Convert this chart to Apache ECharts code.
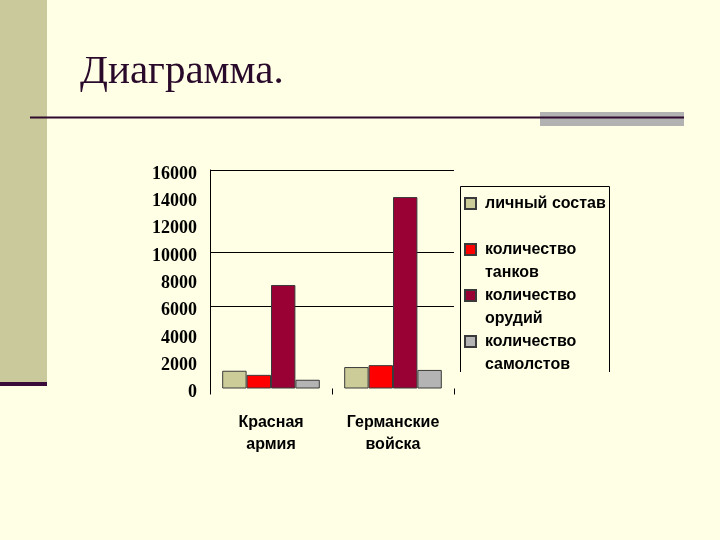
<!DOCTYPE html>
<html>
<head>
<meta charset="utf-8">
<style>
html,body{margin:0;padding:0;background:#ffffe6;}
#chart{width:720px;height:540px;}
</style>
<script src="https://cdn.jsdelivr.net/npm/echarts@6/dist/echarts.min.js"></script>
</head>
<body>
<div id="chart"></div>
<script>
const categories = ['Красная\nармия', 'Германские\nвойска'];
const seriesNames = ['личный состав', 'количество\nтанков', 'количество\nорудий', 'количество\nсамолстов'];
const personnel = [1300, 1570];
const tanks = [1000, 1710];
const guns = [7580, 14020];
const planes = [640, 1360];
const yTicks = [0, 2000, 4000, 6000, 8000, 10000, 12000, 14000, 16000];
const colors = ['#cccc99', '#ff0000', '#990033', '#b4b4b4'];
const values = [personnel, tanks, guns, planes];

const chart = echarts.init(document.getElementById('chart'), null, {renderer: 'canvas'});

const gridColors = yTicks.map(v => (v === 6000 || v === 10000 || v === 16000) ? '#000000' : 'rgba(0,0,0,0)');

const legendLabel = {};
seriesNames.forEach(n => {
  const parts = n.split('\n');
  legendLabel[n] = ' \n' + parts[0] + '\n' + (parts[1] || ' ');
});

const option = {
  backgroundColor: '#ffffe6',
  animation: false,
  title: {
    text: 'Диаграмма.',
    left: 75,
    top: 47,
    textStyle: {fontFamily: 'Liberation Serif', fontSize: 41, fontWeight: 'normal', color: '#2a0a2a'}
  },
  grid: {left: 210, right: 266, top: 170, bottom: 151.5},
  legend: {
    orient: 'vertical',
    left: 464,
    top: 169,
    padding: 0,
    itemGap: -23,
    itemWidth: 11,
    itemHeight: 11,
    icon: 'rect',
    data: seriesNames,
    formatter: name => legendLabel[name],
    textStyle: {
      fontFamily: 'Liberation Sans', fontWeight: 'bold', fontSize: 16, lineHeight: 23,
      color: '#000', padding: [0, 0, 0, 4]
    }
  },
  xAxis: {
    type: 'category',
    data: categories,
    axisLine: {show: false},
    axisTick: {show: true, length: 6, lineStyle: {color: '#000', width: 1}},
    axisLabel: {
      margin: 23, fontFamily: 'Liberation Sans', fontWeight: 'bold', fontSize: 16,
      lineHeight: 22, color: '#000'
    }
  },
  yAxis: {
    type: 'value',
    min: 0, max: 16000, interval: 2000,
    axisLine: {show: true, lineStyle: {color: '#000', width: 1}},
    axisTick: {show: false},
    splitLine: {show: true, lineStyle: {color: gridColors, width: 1}},
    axisLabel: {
      margin: 13, fontFamily: 'Liberation Serif', fontWeight: 'bold', fontSize: 18, color: '#000',
      verticalAlign: 'top', lineHeight: 8,
      formatter: v => String(v)
    }
  },
  series: seriesNames.map((n, i) => ({
    name: n,
    type: 'bar',
    data: values[i],
    barGap: '0%',
    barCategoryGap: '20%',
    itemStyle: {color: colors[i], borderColor: '#3a3a3a', borderWidth: 1}
  })),
  graphic: [
    {type: 'rect', shape: {x: 0, y: 0, width: 47, height: 382}, style: {fill: '#c9c99b'}, silent: true},
    {type: 'rect', shape: {x: 0, y: 382, width: 47, height: 4}, style: {fill: '#3a0a3a'}, silent: true},
    {type: 'rect', shape: {x: 540, y: 112, width: 144, height: 14}, style: {fill: '#b2b2b2'}, silent: true},
    {type: 'line', shape: {x1: 30, y1: 117.5, x2: 684, y2: 117.5}, style: {stroke: '#2e0a2e', lineWidth: 2}, silent: true},
    {type: 'polyline', shape: {points: [[460.5, 372], [460.5, 186.5], [609.5, 186.5], [609.5, 372]]}, style: {stroke: '#000', lineWidth: 1, fill: null}, silent: true}
  ]
};
chart.setOption(option);
</script>
</body>
</html>
